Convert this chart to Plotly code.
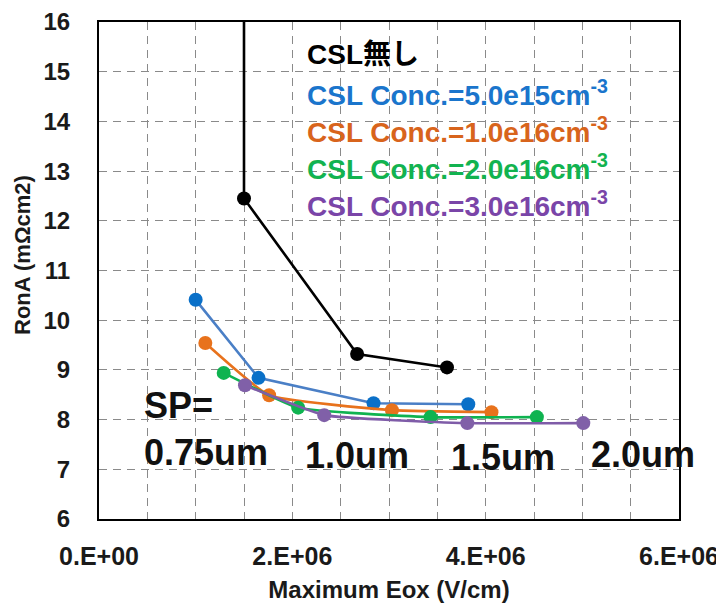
import plotly.graph_objects as go

# data
x_none = [1.50e6, 1.50e6, 2.67e6, 3.60e6]
y_none = [20.0, 12.45, 9.32, 9.05]

x_5e15 = [1.00e6, 1.65e6, 2.84e6, 3.82e6]
y_5e15 = [10.41, 8.84, 8.33, 8.31]

x_1e16 = [1.10e6, 1.76e6, 3.03e6, 4.06e6]
y_1e16 = [9.54, 8.49, 8.19, 8.15]

x_2e16 = [1.29e6, 2.06e6, 3.43e6, 4.53e6]
y_2e16 = [8.94, 8.24, 8.05, 8.05]

x_3e16 = [1.51e6, 2.33e6, 3.81e6, 5.01e6]
y_3e16 = [8.69, 8.09, 7.93, 7.93]

xtick_vals = [0, 2e6, 4e6, 6e6]
xtick_text = ['0.E+00', '2.E+06', '4.E+06', '6.E+06']

legend_texts = ['CSL無し',
                'CSL Conc.=5.0e15cm<sup>-3</sup>',
                'CSL Conc.=1.0e16cm<sup>-3</sup>',
                'CSL Conc.=2.0e16cm<sup>-3</sup>',
                'CSL Conc.=3.0e16cm<sup>-3</sup>']
sp_labels = ['SP=<br>0.75um', '1.0um', '1.5um', '2.0um']

FONT = 'Liberation Sans, Arial, Noto Sans CJK JP, sans-serif'

series = [
    (x_none, y_none, '#000000', '#000000', 'linear'),
    (x_5e15, y_5e15, '#4a7fc6', '#0a70c8', 'linear'),
    (x_1e16, y_1e16, '#e8721c', '#e8721c', 'spline'),
    (x_2e16, y_2e16, '#0fb350', '#0fb350', 'spline'),
    (x_3e16, y_3e16, '#7f5ca8', '#8060a8', 'spline'),
]

fig = go.Figure()
for xs, ys, lc, mc, shp in series:
    fig.add_trace(go.Scatter(x=xs, y=ys, mode='lines+markers',
                             line=dict(color=lc, width=2.6, shape=shp, smoothing=0.4),
                             marker=dict(color=mc, size=14),
                             showlegend=False, cliponaxis=True))

# white box behind the legend text hides the grid there
fig.add_shape(type='rect', xref='paper', yref='paper',
              x0=0.325, x1=0.975, y0=0.555, y1=1.0,
              fillcolor='white', line=dict(width=0), layer='between')

leg_colors = ['#000000', '#1a75cc', '#d8641c', '#12b350', '#7a45a8']
leg_y = [0.934, 0.857, 0.783, 0.708, 0.634]
for txt, col, yy in zip(legend_texts, leg_colors, leg_y):
    fig.add_annotation(x=0.355, y=yy, xref='paper', yref='paper', text=txt,
                       showarrow=False, xanchor='left', yanchor='middle',
                       font=dict(family=FONT, size=28, color=col, weight='bold'))

sp_pos = [(0.074, 0.182), (0.352, 0.127), (0.603, 0.123), (0.845, 0.13)]
for txt, (xx, yy) in zip(sp_labels, sp_pos):
    fig.add_annotation(x=xx, y=yy, xref='paper', yref='paper', text=txt,
                       showarrow=False, xanchor='left', yanchor='middle', align='left',
                       font=dict(family=FONT, size=36, color='#111111', weight='bold'))

# y title sits a little above the middle in the original
fig.add_annotation(x=-0.133, y=0.531, xref='paper', yref='paper', text='RonA (mΩcm2)',
                   showarrow=False, textangle=-90, xanchor='center', yanchor='middle',
                   font=dict(family=FONT, size=22, color='#1a1a1a', weight='bold'))

grid = dict(showgrid=True, gridcolor='#8a8a8a', gridwidth=1.3, griddash='8px,6px')

# page body has an 8px margin, so the plot area is moved up/left by 8px
fig.update_layout(
    width=724, height=602,
    margin=dict(l=91, r=53, t=14, b=91, autoexpand=False),
    paper_bgcolor='white', plot_bgcolor='white',
    font=dict(family=FONT, color='#1a1a1a'),
    xaxis=dict(range=[0, 6e6], tickvals=xtick_vals, ticktext=xtick_text,
               showgrid=False, zeroline=False, automargin=False,
               minor=dict(dtick=5e5, tick0=0, **grid),
               showline=True, linecolor='black', linewidth=2, mirror=True,
               ticks='', ticklabelstandoff=14,
               tickfont=dict(size=25, weight='bold'),
               title=dict(text='Maximum Eox (V/cm)', standoff=12,
                          font=dict(size=24, weight='bold'))),
    yaxis=dict(range=[6, 16], dtick=1, zeroline=False, automargin=False, **grid,
               showline=True, linecolor='black', linewidth=2, mirror=True,
               ticks='', ticklabelstandoff=22,
               tickfont=dict(size=24, weight='bold')),
)

fig.write_html('out.html')
